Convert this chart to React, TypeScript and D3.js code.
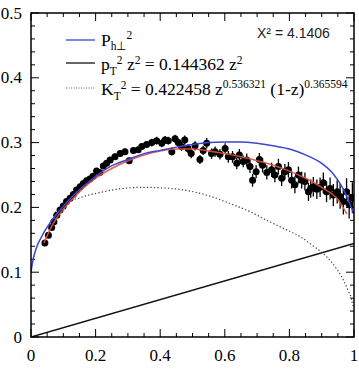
import React from "react";
import * as d3 from "d3";

// measured points (z, P_h⊥² and its error)
const zData = [0.043, 0.054, 0.064, 0.071, 0.08, 0.09, 0.1, 0.11, 0.121, 0.131, 0.141, 0.152, 0.162, 0.172, 0.182, 0.192, 0.203, 0.213, 0.224, 0.234, 0.245, 0.26, 0.276, 0.291, 0.304, 0.317, 0.332, 0.343, 0.358, 0.374, 0.389, 0.405, 0.415, 0.425, 0.436, 0.446, 0.456, 0.466, 0.476, 0.486, 0.496, 0.508, 0.523, 0.533, 0.544, 0.559, 0.57, 0.585, 0.601, 0.611, 0.624, 0.637, 0.645, 0.657, 0.668, 0.678, 0.686, 0.697, 0.707, 0.717, 0.73, 0.745, 0.755, 0.766, 0.776, 0.786, 0.797, 0.807, 0.817, 0.828, 0.838, 0.848, 0.859, 0.866, 0.874, 0.885, 0.895, 0.905, 0.915, 0.926, 0.936, 0.948, 0.957, 0.967, 0.977, 0.985, 0.995];
const yData = [0.145, 0.157, 0.169, 0.178, 0.188, 0.196, 0.202, 0.209, 0.214, 0.22, 0.227, 0.232, 0.237, 0.241, 0.244, 0.248, 0.256, 0.254, 0.264, 0.268, 0.273, 0.278, 0.283, 0.286, 0.272, 0.288, 0.289, 0.294, 0.297, 0.3, 0.303, 0.299, 0.304, 0.303, 0.286, 0.306, 0.3, 0.294, 0.304, 0.291, 0.283, 0.295, 0.274, 0.288, 0.299, 0.283, 0.286, 0.282, 0.291, 0.278, 0.278, 0.268, 0.281, 0.271, 0.273, 0.263, 0.242, 0.255, 0.274, 0.265, 0.254, 0.258, 0.25, 0.263, 0.245, 0.255, 0.258, 0.242, 0.235, 0.25, 0.242, 0.24, 0.224, 0.229, 0.232, 0.228, 0.231, 0.238, 0.224, 0.229, 0.219, 0.224, 0.217, 0.209, 0.224, 0.205, 0.215];
const eData = [0.003, 0.003, 0.003, 0.003, 0.003, 0.003, 0.003, 0.003, 0.003, 0.003, 0.003, 0.003, 0.003, 0.004, 0.004, 0.004, 0.004, 0.004, 0.004, 0.004, 0.004, 0.005, 0.005, 0.005, 0.005, 0.005, 0.005, 0.005, 0.005, 0.006, 0.006, 0.006, 0.006, 0.006, 0.006, 0.006, 0.006, 0.007, 0.007, 0.007, 0.007, 0.007, 0.007, 0.007, 0.008, 0.008, 0.008, 0.008, 0.008, 0.009, 0.009, 0.009, 0.009, 0.009, 0.01, 0.01, 0.01, 0.01, 0.01, 0.011, 0.011, 0.011, 0.011, 0.012, 0.012, 0.012, 0.012, 0.013, 0.013, 0.013, 0.013, 0.014, 0.014, 0.014, 0.015, 0.015, 0.015, 0.016, 0.016, 0.017, 0.017, 0.018, 0.019, 0.02, 0.021, 0.022, 0.024];

// curves
const blueZ = [0, 0.004, 0.01, 0.02, 0.03, 0.043, 0.06, 0.09, 0.13, 0.18, 0.245, 0.3, 0.35, 0.4, 0.45, 0.5, 0.55, 0.6, 0.65, 0.7, 0.75, 0.8, 0.85, 0.9, 0.93, 0.95, 0.97, 0.985, 1];
const blueY = [0.1, 0.113, 0.127, 0.142, 0.152, 0.164, 0.177, 0.196, 0.218, 0.24, 0.263, 0.274, 0.283, 0.288, 0.293, 0.297, 0.3, 0.301, 0.301, 0.299, 0.295, 0.29, 0.281, 0.268, 0.255, 0.242, 0.225, 0.208, 0.19];
const redZ = [0.04, 0.06, 0.08, 0.1, 0.15, 0.2, 0.25, 0.3, 0.35, 0.4, 0.45, 0.5, 0.55, 0.6, 0.65, 0.7, 0.75, 0.8, 0.85, 0.9, 0.95, 0.978];
const redY = [0.145, 0.167, 0.184, 0.197, 0.224, 0.245, 0.26, 0.272, 0.281, 0.287, 0.29, 0.29, 0.287, 0.283, 0.278, 0.272, 0.265, 0.256, 0.245, 0.231, 0.212, 0.19];
const dotZ = [0.055, 0.065, 0.1, 0.152, 0.214, 0.28, 0.348, 0.41, 0.472, 0.55, 0.626, 0.68, 0.73, 0.78, 0.833, 0.875, 0.915, 0.945, 0.967, 0.983, 0.993, 0.996];
const dotY = [0.166, 0.181, 0.204, 0.215, 0.223, 0.229, 0.231, 0.23, 0.227, 0.218, 0.204, 0.193, 0.18, 0.168, 0.155, 0.14, 0.124, 0.106, 0.088, 0.07, 0.057, 0.048];
const lineZ = [0, 1];
const lineY = [0, 0.1444];

const xTickLabels = ["0", "0.2", "0.4", "0.6", "0.8", "1"];
const yTickLabels = ["0", "0.1", "0.2", "0.3", "0.4", "0.5"];

const W = 359;
const H = 369;
const m = { left: 31, right: 5, top: 13, bottom: 32 };
const serif = "'Liberation Serif', 'Times New Roman', serif";

const x = d3.scaleLinear().domain([0, 1]).range([m.left, W - m.right]);
const y = d3.scaleLinear().domain([0, 0.5]).range([H - m.bottom, m.top]);

const pts = (zs: number[], ys: number[]) => zs.map((z, i) => [z, ys[i]] as [number, number]);
const curve = d3
  .line<[number, number]>()
  .x(d => x(d[0]))
  .y(d => y(d[1]))
  .curve(d3.curveMonotoneX);

export default function App() {
  const x0 = x.range()[0], x1 = x.range()[1];
  const y0 = y.range()[0], y1 = y.range()[1];
  const xMinor = x.ticks(20);
  const xMajor = x.ticks(5);
  const yMinor = d3.range(0, 0.5001, 0.02);
  const yMajor = y.ticks(5);

  return (
    <div style={{ position: "absolute", left: 0, top: 0 }}>
      <svg width={W} height={H} style={{ display: "block", background: "#fff" }}>
        <defs>
          <clipPath id="plot">
            <rect x={x0} y={y1} width={x1 - x0} height={y0 - y1} />
          </clipPath>
        </defs>

        {/* ticks, all inward */}
        <g stroke="#000" strokeWidth={1}>
          {xMinor.map((t, i) => {
            const major = xMajor.some(v => Math.abs(v - t) < 1e-9);
            const len = major ? 8 : 4;
            return (
              <g key={"x" + i}>
                <line x1={x(t)} x2={x(t)} y1={y0} y2={y0 - len} />
                <line x1={x(t)} x2={x(t)} y1={y1} y2={y1 + len} />
              </g>
            );
          })}
          {yMinor.map((t, i) => {
            const major = yMajor.some(v => Math.abs(v - t) < 1e-9);
            const len = major ? 8 : 4;
            return (
              <g key={"y" + i}>
                <line x1={x0} x2={x0 + len} y1={y(t)} y2={y(t)} />
                <line x1={x1} x2={x1 - len} y1={y(t)} y2={y(t)} />
              </g>
            );
          })}
        </g>

        {/* tick labels */}
        <g fontFamily={serif} fontSize={17} fill="#000">
          {xMajor.map((t, i) => (
            <text key={i} x={x(t)} y={361} textAnchor="middle">
              {xTickLabels[i]}
            </text>
          ))}
          {yMajor.map((t, i) => (
            <text key={i} x={22} y={y(t) + 5.5} textAnchor="end">
              {yTickLabels[i]}
            </text>
          ))}
        </g>

        <g clipPath="url(#plot)" fill="none">
          <path d={curve(pts(lineZ, lineY)) || ""} stroke="#111" strokeWidth={1.5} />
          <path d={curve(pts(dotZ, dotY)) || ""} stroke="#444" strokeWidth={1.2} strokeDasharray="1.3,2.2" />
          {/* data */}
          <g stroke="#000" strokeWidth={1.3}>
            {zData.map((z, i) => (
              <line key={i} x1={x(z)} x2={x(z)} y1={y(yData[i] - eData[i])} y2={y(yData[i] + eData[i])} />
            ))}
          </g>
          <g fill="#000">
            {zData.map((z, i) => (
              <circle key={i} cx={x(z)} cy={y(yData[i])} r={3.5} />
            ))}
          </g>
          <path d={curve(pts(redZ, redY)) || ""} stroke="#e2503c" strokeWidth={1.5} opacity={0.9} />
          <path d={curve(pts(blueZ, blueY)) || ""} stroke="#3a46d0" strokeWidth={1.5} />
        </g>

        <rect x={x0} y={y1} width={x1 - x0} height={y0 - y1} fill="none" stroke="#000" strokeWidth={1.5} />

        {/* legend */}
        <line x1={66} x2={95} y1={40} y2={40} stroke="#3a46d0" strokeWidth={1.3} />
        <line x1={66} x2={95} y1={63} y2={63} stroke="#111" strokeWidth={1.3} />
        <line x1={66} x2={95} y1={88} y2={88} stroke="#666" strokeWidth={1} strokeDasharray="1,1.5" />
        <g fontFamily={serif} fill="#000">
          <text x={101} y={46} fontSize={17.5}>
            P<tspan fontSize={11.5} dy={4}>h⊥</tspan>
            <tspan fontSize={11.5} dy={-11}>2</tspan>
          </text>
          <text x={101} y={70} fontSize={17.5}>
            p<tspan fontSize={11.5} dy={4.5}>T</tspan>
            <tspan fontSize={11.5} dy={-10.5}>2</tspan>
            <tspan dy={6}> z</tspan>
            <tspan fontSize={11.5} dy={-6}>2</tspan>
            <tspan dy={6}> = 0.144362 z</tspan>
            <tspan fontSize={11.5} dy={-6}>2</tspan>
          </text>
          <text x={101} y={95} fontSize={17.5}>
            K<tspan fontSize={11.5} dy={4.5}>T</tspan>
            <tspan fontSize={11.5} dy={-11}>2</tspan>
            <tspan dy={6.5}> = 0.422458 z</tspan>
            <tspan fontSize={11.5} dy={-7}>0.536321</tspan>
            <tspan dy={7}> (1-z)</tspan>
            <tspan fontSize={11.5} dy={-7}>0.365594</tspan>
          </text>
        </g>
        <text x={257} y={38} fontFamily="'Liberation Sans', Arial, sans-serif" fontSize={14} fill="#222">
          Χ² = 4.1406
        </text>
      </svg>
    </div>
  );
}
